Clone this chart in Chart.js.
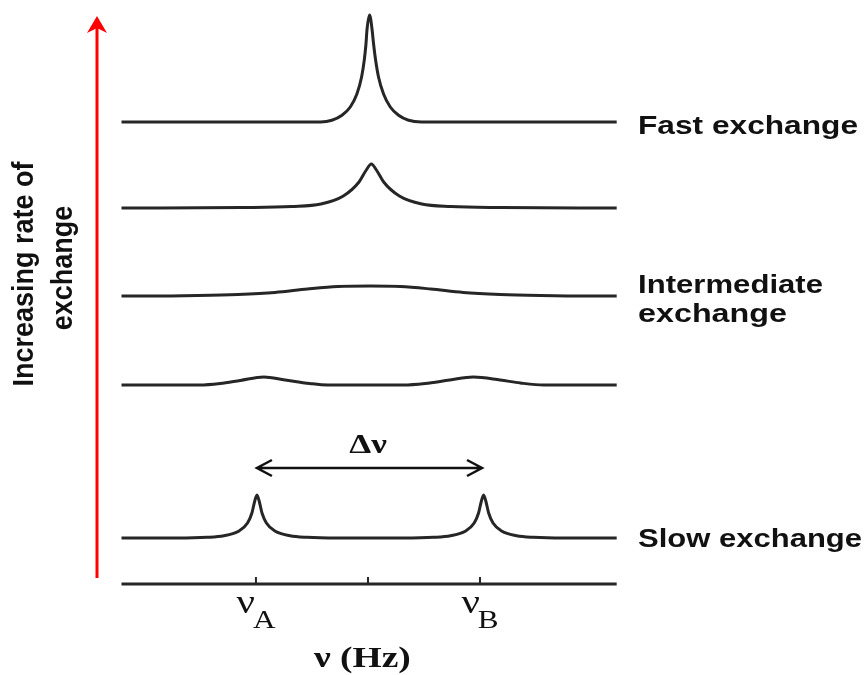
<!DOCTYPE html>
<html>
<head>
<meta charset="utf-8">
<script src="https://cdn.jsdelivr.net/npm/chart.js@4.4.1/dist/chart.umd.min.js"></script>
<style>
  html, body { margin: 0; padding: 0; background: #fff; }
</style>
</head>
<body>
<canvas id="spectra" width="867" height="675"></canvas>
<script>
// frequency in units of half the splitting: vA = -1, vB = +1
// heights, each trace relative to its own baseline

const fastX = [-2.2, -0.423, -0.322, -0.232, -0.158, -0.099, -0.057, -0.033, -0.018, -0.009, 0.014,
               0.037, 0.05, 0.068, 0.094, 0.139, 0.199, 0.273, 0.362, 0.478, 2.22]
const fastY = [0, 0, 0.17, 0.67, 1.5, 2.8, 4.5, 6.2, 7.8, 9.2, 10.7,
               9.2, 7.8, 6.2, 4.5, 2.8, 1.5, 0.67, 0.17, 0, 0]

const fast2X = [-2.2, -1.13, -0.68, -0.42, -0.22, -0.08, -0.015, 0.03, 0.075, 0.14, 0.28, 0.48, 0.74, 1.19, 2.22]
const fast2Y = [0, 0.05, 0.15, 0.4, 1.2, 2.6, 3.8, 4.4, 3.8, 2.6, 1.2, 0.4, 0.15, 0.05, 0]

const midX = [-2.2, -1.96, -1.52, -1.16, -0.83, -0.54, -0.27, 0.02, 0.29, 0.56, 0.85, 1.18, 1.54, 1.98, 2.22]
const midY = [0, 0, 0.05, 0.15, 0.35, 0.7, 0.95, 1.0, 0.95, 0.7, 0.35, 0.15, 0.05, 0, 0]

const slow2X = [-2.2, -1.5, -1.32, -1.14, -0.93, -0.74, -0.52, -0.36, 0.32, 0.51, 0.73, 0.94, 1.18, 1.36, 1.57, 2.22]
const slow2Y = [0, 0, 0.15, 0.45, 0.8, 0.5, 0.15, 0, 0, 0.15, 0.5, 0.8, 0.5, 0.2, 0, 0]

const slowX = [-2.2, -1.705, -1.437, -1.286, -1.155, -1.075, -1.036, -1.015, -0.991, -0.967, -0.946, -0.907, -0.827, -0.696, -0.545, -0.277,
               0.318, 0.586, 0.737, 0.868, 0.948, 0.987, 1.008, 1.032, 1.056, 1.077, 1.116, 1.196, 1.327, 1.478, 1.746, 2.22]
const slowY = [0, 0, 0.07, 0.23, 0.67, 1.5, 2.5, 3.5, 4.3, 3.5, 2.5, 1.5, 0.67, 0.23, 0.07, 0,
               0, 0.07, 0.23, 0.67, 1.5, 2.5, 3.5, 4.3, 3.5, 2.5, 1.5, 0.67, 0.23, 0.07, 0, 0]

// vertical offset of each spectrum, top to bottom
const baselines = [46.2, 37.6, 28.8, 19.9, 4.6]

const tickValues = [-1, 0, 1]
const tickLabels = ['A', '', 'B']

const traces = [
  [fastX, fastY],
  [fast2X, fast2Y],
  [midX, midY],
  [slow2X, slow2Y],
  [slowX, slowY]
]

const INK = '#262626'

function drawText(ctx, text, x, y, font, sx, align) {
  ctx.save()
  ctx.font = font
  ctx.translate(x, y)
  ctx.scale(sx, 1)
  ctx.textAlign = align || 'left'
  ctx.textBaseline = 'alphabetic'
  ctx.fillText(text, 0, 0)
  ctx.restore()
}

function fitText(ctx, text, x, y, font, width) {
  ctx.save()
  ctx.font = font
  const w = ctx.measureText(text).width
  ctx.restore()
  drawText(ctx, text, x, y, font, width / w, 'left')
}

// vertical text, glyphs a little stretched across the line like the rest of the figure
function upText(ctx, text, x, y) {
  ctx.save()
  ctx.font = 'bold 27px "Liberation Sans"'
  ctx.textAlign = 'center'
  ctx.translate(x, y)
  ctx.rotate(-Math.PI / 2)
  ctx.scale(1, 1.1)
  ctx.fillText(text, 0, 0)
  ctx.restore()
}

const decor = {
  id: 'decor',
  afterDatasetsDraw(chart) {
    const ctx = chart.ctx
    const xs = chart.scales.x
    const ys = chart.scales.y
    const y0 = ys.getPixelForValue(0)

    ctx.save()
    ctx.fillStyle = '#111'
    ctx.strokeStyle = INK

    // frequency axis
    ctx.lineWidth = 3
    ctx.beginPath()
    ctx.moveTo(xs.getPixelForValue(xs.min), y0)
    ctx.lineTo(xs.getPixelForValue(xs.max), y0)
    ctx.stroke()

    ctx.lineWidth = 2
    tickValues.forEach((v, i) => {
      const px = xs.getPixelForValue(v)
      ctx.beginPath()
      ctx.moveTo(px, y0)
      ctx.lineTo(px, y0 - 7)
      ctx.stroke()
      if (!tickLabels[i]) return
      ctx.font = '34px "Liberation Serif"'
      const w1 = ctx.measureText('ν').width * 1.2
      ctx.font = '26px "Liberation Serif"'
      const w2 = ctx.measureText(tickLabels[i]).width * 1.2
      const left = px - (w1 + w2 - 2) / 2
      drawText(ctx, 'ν', left, y0 + 29, '34px "Liberation Serif"', 1.2)
      drawText(ctx, tickLabels[i], left + w1 - 2, y0 + 44, '26px "Liberation Serif"', 1.2)
    })

    drawText(ctx, 'ν (Hz)', xs.getPixelForValue(-0.05), y0 + 83, 'bold 30px "Liberation Serif"', 1.25, 'center')

    // delta nu double arrow
    const ay = ys.getPixelForValue(11.6)
    const ax1 = xs.getPixelForValue(-1) + 1
    const ax2 = xs.getPixelForValue(1) + 2
    ctx.strokeStyle = '#111'
    ctx.lineWidth = 2.5
    ctx.beginPath()
    ctx.moveTo(ax1, ay)
    ctx.lineTo(ax2, ay)
    ctx.moveTo(ax1 + 15, ay - 8)
    ctx.lineTo(ax1, ay)
    ctx.lineTo(ax1 + 15, ay + 8)
    ctx.moveTo(ax2 - 15, ay - 8)
    ctx.lineTo(ax2, ay)
    ctx.lineTo(ax2 - 15, ay + 8)
    ctx.stroke()
    drawText(ctx, 'Δν', xs.getPixelForValue(0), ay - 15, 'bold 28px "Liberation Serif"', 1.25, 'center')

    // labels on the right
    const lx = 638
    const sans = 'bold 26px "Liberation Sans"'
    fitText(ctx, 'Fast exchange', lx, ys.getPixelForValue(baselines[0]) + 12, sans, 220)
    fitText(ctx, 'Intermediate', lx, 293, sans, 185)
    fitText(ctx, 'exchange', lx, 322, sans, 149)
    fitText(ctx, 'Slow exchange', lx, ys.getPixelForValue(baselines[4]) + 9, sans, 224)

    // red arrow on the left
    ctx.strokeStyle = '#ff0000'
    ctx.fillStyle = '#ff0000'
    ctx.lineWidth = 3
    ctx.beginPath()
    ctx.moveTo(97, 578)
    ctx.lineTo(97, 26)
    ctx.stroke()
    ctx.beginPath()
    ctx.moveTo(97, 16)
    ctx.lineTo(107, 33)
    ctx.lineTo(97, 28)
    ctx.lineTo(87, 33)
    ctx.closePath()
    ctx.fill()

    ctx.fillStyle = '#111'
    upText(ctx, 'Increasing rate of', 33, 274)
    upText(ctx, 'exchange', 72, 268)

    ctx.restore()
  }
}

new Chart(document.getElementById('spectra'), {
  type: 'line',
  data: {
    datasets: traces.map((t, i) => ({
      data: t[0].map((x, j) => ({ x: x, y: t[1][j] + baselines[i] })),
      borderColor: INK,
      borderWidth: 3,
      pointRadius: 0,
      fill: false,
      cubicInterpolationMode: 'monotone',
      clip: false
    }))
  },
  options: {
    responsive: false,
    animation: false,
    devicePixelRatio: 1,
    layout: { padding: { left: 121.5, right: 250.3, top: 9, bottom: 91 } },
    scales: {
      x: { type: 'linear', min: -2.2, max: 2.22, display: false },
      y: { min: 0, max: 57.5, display: false }
    },
    plugins: {
      legend: { display: false },
      tooltip: { enabled: false }
    }
  },
  plugins: [decor]
})
</script>
</body>
</html>
